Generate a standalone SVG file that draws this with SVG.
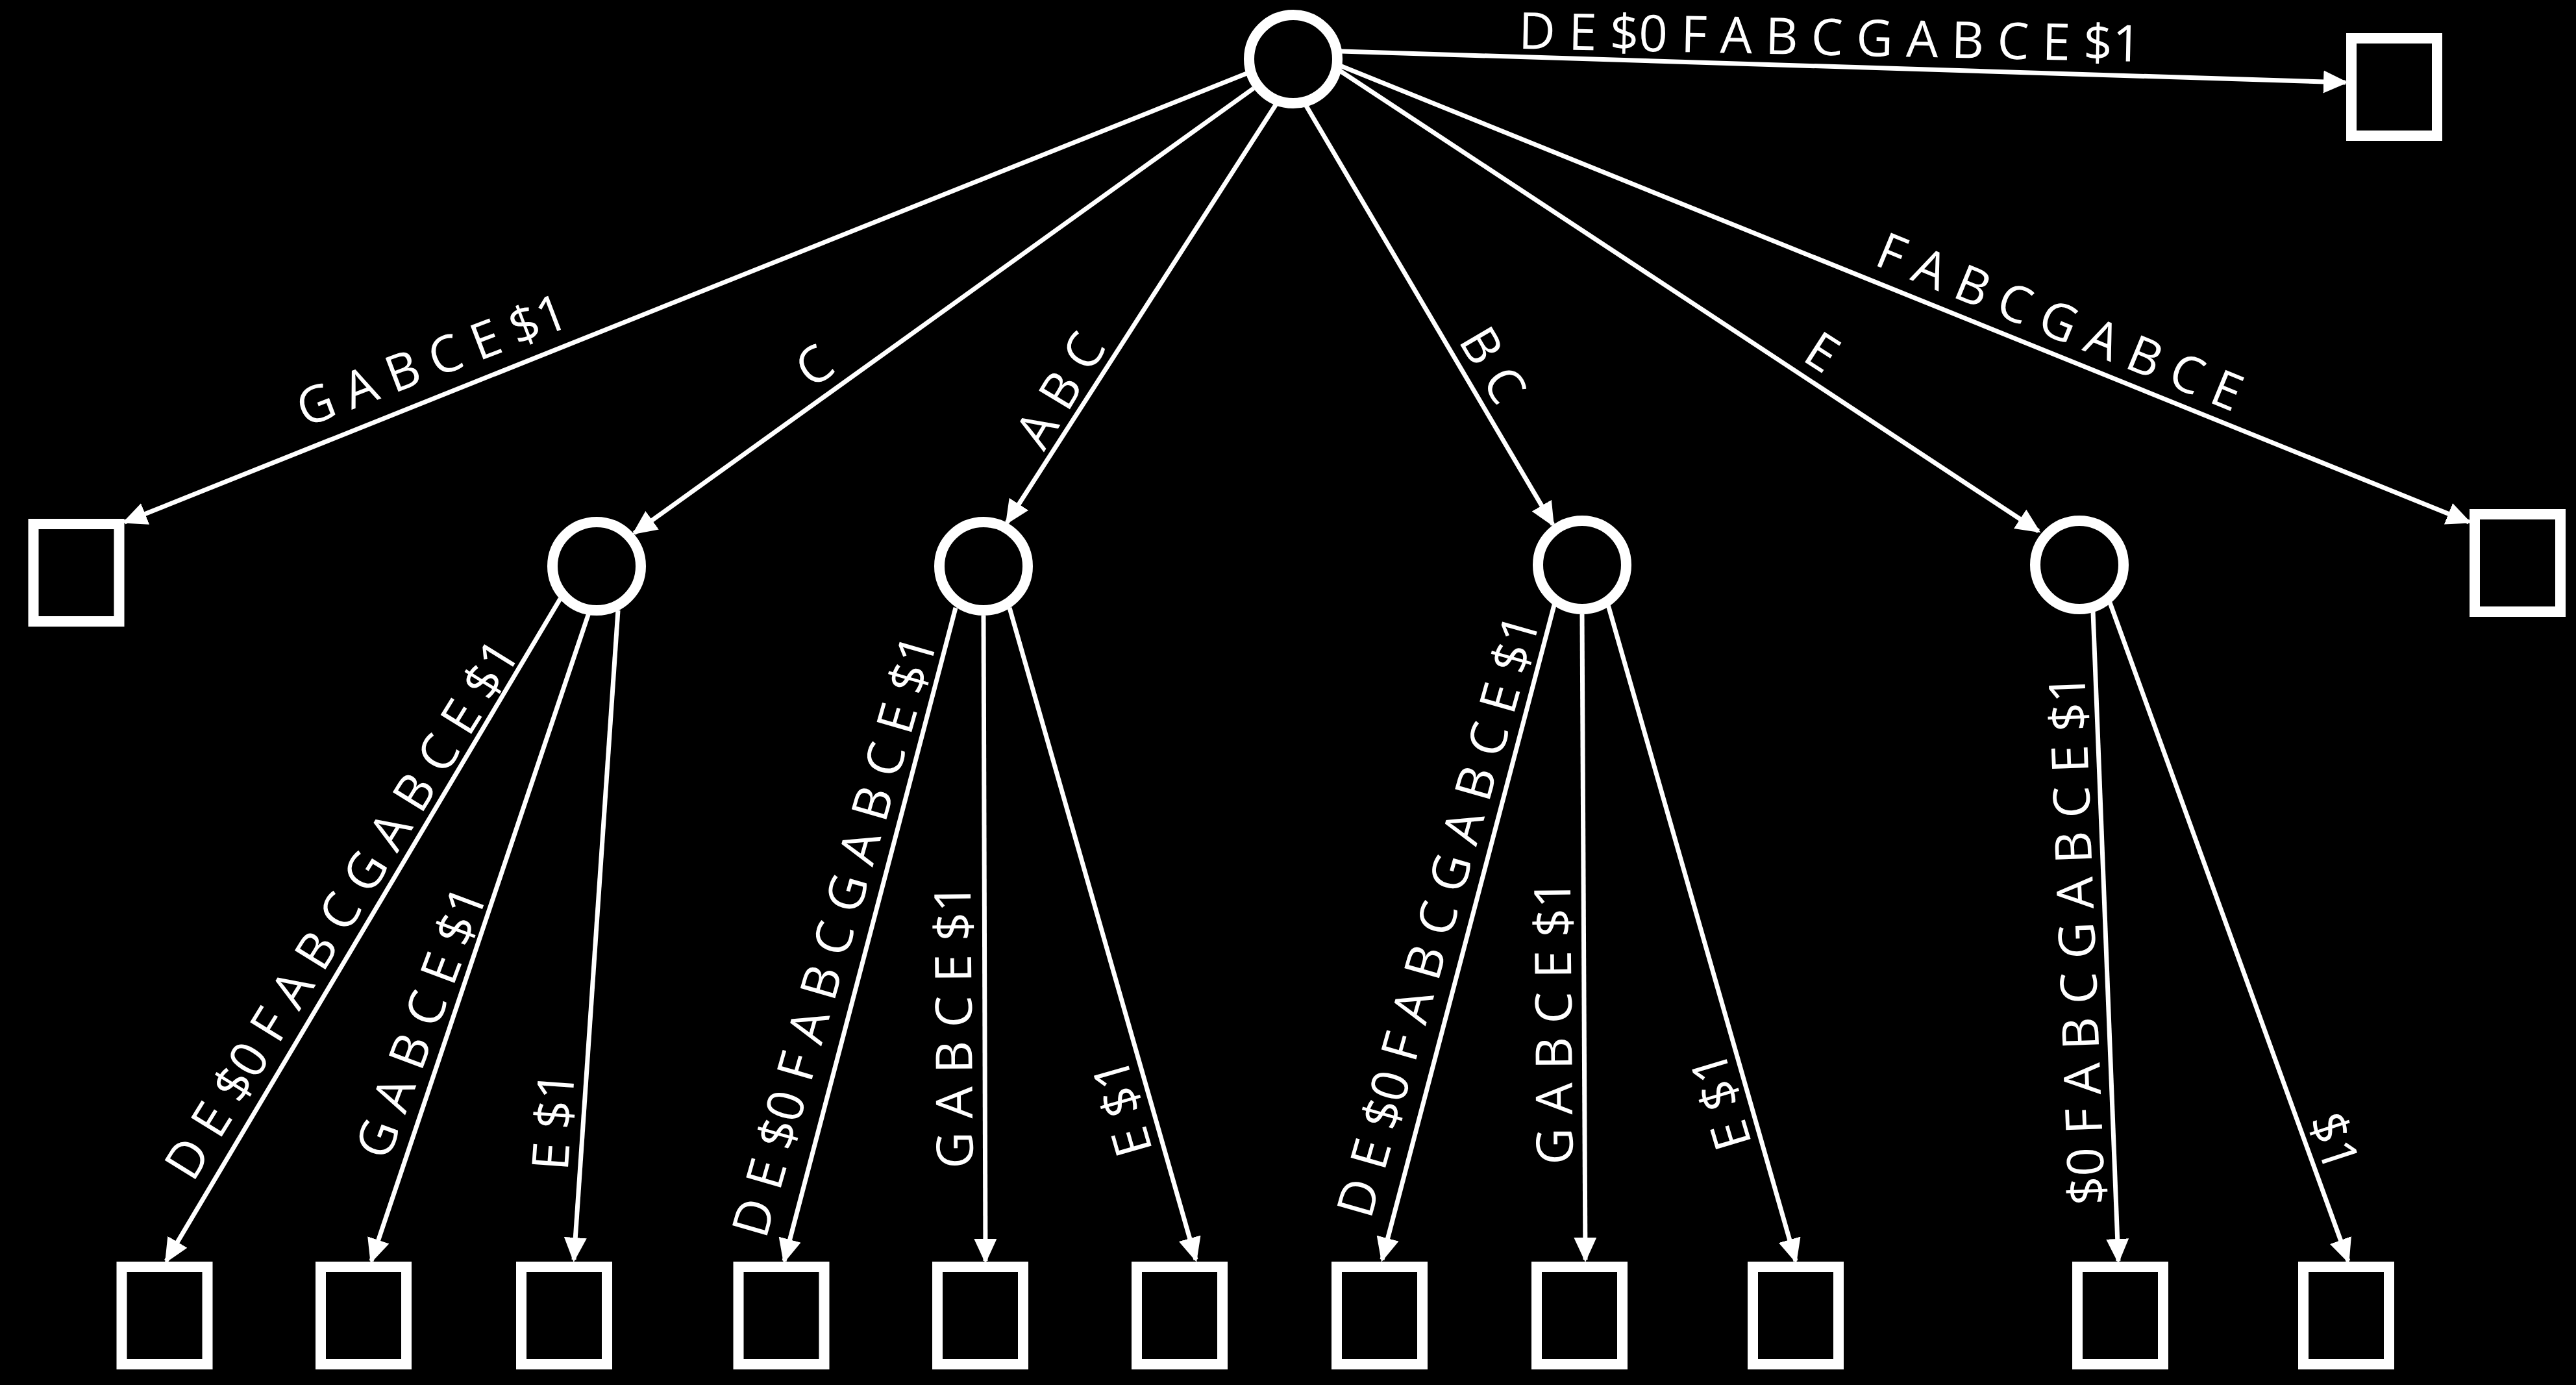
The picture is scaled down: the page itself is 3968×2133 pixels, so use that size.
<svg xmlns="http://www.w3.org/2000/svg" width="3968" height="2133" viewBox="0 0 3968 2133">
<defs>
<style>
.edge{stroke:#fff;stroke-width:7;fill:none;marker-end:url(#ah)}
.inner{fill:#000;stroke:#fff;stroke-width:16}
.leaf{fill:#000;stroke:#fff;stroke-width:16}
.lbl{fill:#fff;font-family:"Open Sans","Noto Sans","DejaVu Sans",sans-serif;font-size:78px;text-anchor:middle}
</style>
<marker id="ah" markerUnits="userSpaceOnUse" markerWidth="40" markerHeight="36" refX="34" refY="17.5" orient="auto" viewBox="0 0 40 36">
<path d="M0,0 L38,17.5 L0,35 Z" fill="#fff"/>
</marker>
</defs>
<rect x="0" y="0" width="3968" height="2133" fill="#000"/>
<g id="connectors">
<line class="edge" x1="2066" y1="79" x2="3613" y2="127"/>
<line class="edge" x1="1923" y1="112" x2="192" y2="804"/>
<line class="edge" x1="1931" y1="136" x2="977" y2="821"/>
<line class="edge" x1="1966" y1="160" x2="1551" y2="805"/>
<line class="edge" x1="2012" y1="163" x2="2392" y2="808"/>
<line class="edge" x1="2064" y1="109" x2="3140" y2="818"/>
<line class="edge" x1="2064" y1="101" x2="3803" y2="804"/>
<line class="edge" x1="863" y1="922" x2="256" y2="1942"/>
<line class="edge" x1="907" y1="944" x2="572" y2="1942"/>
<line class="edge" x1="952" y1="940" x2="884" y2="1940"/>
<line class="edge" x1="1472" y1="936" x2="1208" y2="1942"/>
<line class="edge" x1="1515" y1="948" x2="1518" y2="1942"/>
<line class="edge" x1="1555" y1="936" x2="1842" y2="1940"/>
<line class="edge" x1="2395" y1="928" x2="2129" y2="1940"/>
<line class="edge" x1="2437" y1="946" x2="2442" y2="1940"/>
<line class="edge" x1="2476" y1="928" x2="2766" y2="1942"/>
<line class="edge" x1="3224" y1="942" x2="3263" y2="1942"/>
<line class="edge" x1="3250" y1="928" x2="3617" y2="1942"/>
</g>
<g id="edge-labels">
<text class="lbl" dy="0.357em" transform="translate(2819,57) rotate(1.2)">D E $0 F A B C G A B C E $1</text>
<text class="lbl" dy="0.357em" transform="translate(665,554) rotate(-20.9)">G A B C E $1</text>
<text class="lbl" dy="0.357em" transform="translate(1254,563) rotate(-36)">C</text>
<text class="lbl" dy="0.357em" transform="translate(1633,601) rotate(-59)">A B C</text>
<text class="lbl" dy="0.357em" transform="translate(2300,562) rotate(59.5)">B C</text>
<text class="lbl" dy="0.357em" transform="translate(2807,542) rotate(32.7)">E</text>
<text class="lbl" dy="0.357em" transform="translate(3173,495) rotate(22.3)">F A B C G A B C E</text>
<text class="lbl" dy="0.357em" transform="translate(526,1400) rotate(-58.2)">D E $0 F A B C G A B C E $1</text>
<text class="lbl" dy="0.357em" transform="translate(648,1574) rotate(-69.5)">G A B C E $1</text>
<text class="lbl" dy="0.357em" transform="translate(852,1726) rotate(-86)">E $1</text>
<text class="lbl" dy="0.357em" transform="translate(1285,1441) rotate(-74)">D E $0 F A B C G A B C E $1</text>
<text class="lbl" dy="0.357em" transform="translate(1469,1580) rotate(-90.5)">G A B C E $1</text>
<text class="lbl" dy="0.357em" transform="translate(1728,1706) rotate(-106)">E $1</text>
<text class="lbl" dy="0.357em" transform="translate(2215,1410) rotate(-74.2)">D E $0 F A B C G A B C E $1</text>
<text class="lbl" dy="0.357em" transform="translate(2393,1574) rotate(-90.5)">G A B C E $1</text>
<text class="lbl" dy="0.357em" transform="translate(2650,1696) rotate(-106.7)">E $1</text>
<text class="lbl" dy="0.357em" transform="translate(3199,1447) rotate(-92.2)">$0 F A B C G A B C E $1</text>
<text class="lbl" dy="0.357em" transform="translate(3596,1758) rotate(72)">$1</text>
</g>
<g id="root"><circle class="inner" cx="1992" cy="91" r="68"/></g>
<g id="n-c"><circle class="inner" cx="919" cy="872" r="68"/></g>
<g id="n-abc"><circle class="inner" cx="1515" cy="872" r="68"/></g>
<g id="n-bc"><circle class="inner" cx="2437" cy="870" r="68"/></g>
<g id="n-e"><circle class="inner" cx="3203" cy="870" r="68"/></g>
<g id="leaf-top"><rect class="leaf" x="3622" y="59" width="132" height="150"/></g>
<g id="leaf-left"><rect class="leaf" x="51.5" y="807" width="132" height="150"/></g>
<g id="leaf-right"><rect class="leaf" x="3812" y="792" width="132" height="150"/></g>
<g id="leaf-1"><rect class="leaf" x="187.5" y="1951" width="132" height="150"/></g>
<g id="leaf-2"><rect class="leaf" x="494" y="1951" width="132" height="150"/></g>
<g id="leaf-3"><rect class="leaf" x="803" y="1951" width="132" height="150"/></g>
<g id="leaf-4"><rect class="leaf" x="1137.5" y="1951" width="132" height="150"/></g>
<g id="leaf-5"><rect class="leaf" x="1444" y="1951" width="132" height="150"/></g>
<g id="leaf-6"><rect class="leaf" x="1751" y="1951" width="132" height="150"/></g>
<g id="leaf-7"><rect class="leaf" x="2059" y="1951" width="132" height="150"/></g>
<g id="leaf-8"><rect class="leaf" x="2367" y="1951" width="132" height="150"/></g>
<g id="leaf-9"><rect class="leaf" x="2700" y="1951" width="132" height="150"/></g>
<g id="leaf-10"><rect class="leaf" x="3200" y="1951" width="132" height="150"/></g>
<g id="leaf-11"><rect class="leaf" x="3548" y="1951" width="132" height="150"/></g>
</svg>
